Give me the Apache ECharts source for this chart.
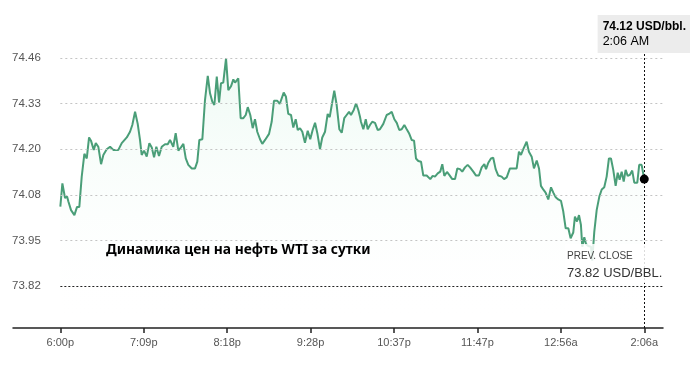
<!DOCTYPE html>
<html>
<head>
<meta charset="utf-8">
<script src="https://cdn.jsdelivr.net/npm/echarts@6/dist/echarts.min.js"></script>
<style>html,body{margin:0;padding:0;background:#fff}#c{width:700px;height:371px}</style>
</head>
<body>
<div id="c"></div>
<script>
// minutes after 6:00p
const times = [0,1.7,3.9,5.6,6.7,8.9,11.7,13.9,15.8,17.8,20.0,22.0,23.9,25.5,27.8,29.5,31.6,33.9,35.8,38.6,41.4,44.1,48.3,51.1,55.3,58.0,59.9,62.2,64.4,66.3,67.7,69.7,71.9,74.1,76.1,78.0,79.9,82.1,84.4,87.1,89.4,91.3,92.7,94.0,96.0,98.2,100.4,102.4,104.4,106.5,109.4,112.1,114.0,115.7,118.2,120.4,
122.7,124.6,126.5,128.2,130.2,132.1,133.7,135.6,137.9,139.8,142.1,144.0,145.4,148.1,150.1,152.3,154.3,156.0,158.1,160.1,162.0,163.9,166.2,168.1,170.4,173.7,175.9,177.8,180.6,182.6,184.2,185.9,187.8,189.7,192.0,193.9,195.9,197.6,199.5,201.4,203.6,205.9,208.0,210.0,212.0,213.9,216.1,218.0,220.3,222.5,224.2,225.9,228.0,230.0,232.2,234.2,236.3,238.3,240.3,241.9,244.2,246.1,248.0,249.4,
250.2,252.2,254.2,255.8,257.7,259.6,261.9,264.1,266.0,268.8,271.6,273.5,275.8,278.0,280.0,282.1,284.1,286.3,288.3,290.2,292.4,294.4,296.0,297.9,300.2,302.1,304.9,306.3,307.9,309.9,311.8,314.1,316.2,317.9,319.6,321.8,323.7,326.2,328.5,330.4,332.6,334.5,336.8,339.0,341.0,343.7,346.0,348.4,350.7,352.9,354.3,356.2,358.4,360.3,362.3,364.5,367.3,369.3,371.5,374.2,377.0,379.8,381.7,383.4,385.3,388.1,390.0,392.3,394.2,396.5,398.4,400.0,401.9,403.9,406.1,408.4,410.3,412.3,414.4,416.7,418.6,420.6,422.8,424.7,426.9,428.3,430.0,431.7,433.3,434.4,436.1,437.5,439.4,441.7,442.7,444.4,446.4,448.6,450.6,452.7,454.7,456.6,458.3,460.2,462.2,463.9,465.5,467.2,468.9,470.5,472.2,474.1,476.0,477.7,480.2,481.8,483.8,486.0];
const prices = [74.043,74.108,74.067,74.071,74.057,74.033,74.019,74.042,74.042,74.127,74.191,74.178,74.237,74.228,74.202,74.221,74.211,74.162,74.188,74.204,74.211,74.202,74.202,74.221,74.237,74.253,74.272,74.309,74.275,74.230,74.188,74.200,74.183,74.221,74.209,74.181,74.211,74.185,74.211,74.218,74.218,74.230,74.228,74.211,74.249,74.200,74.209,74.219,74.178,74.160,74.150,74.150,74.169,74.230,74.232,74.342,
74.410,74.361,74.337,74.328,74.408,74.335,74.389,74.391,74.459,74.370,74.381,74.400,74.391,74.403,74.291,74.291,74.300,74.322,74.300,74.263,74.288,74.253,74.232,74.219,74.230,74.247,74.281,74.340,74.340,74.331,74.331,74.363,74.351,74.303,74.300,74.265,74.288,74.258,74.263,74.253,74.222,74.256,74.232,74.258,74.278,74.249,74.204,74.237,74.253,74.303,74.294,74.328,74.368,74.328,74.260,74.250,74.291,74.300,74.309,74.300,74.314,74.333,74.314,74.295,
74.281,74.260,74.288,74.260,74.272,74.281,74.278,74.258,74.260,74.275,74.300,74.303,74.309,74.288,74.278,74.258,74.260,74.272,74.260,74.249,74.230,74.228,74.178,74.171,74.169,74.130,74.130,74.129,74.120,74.129,74.127,74.136,74.141,74.162,74.129,74.140,74.132,74.120,74.120,74.150,74.148,74.141,74.153,74.160,74.153,74.141,74.130,74.130,74.153,74.162,74.148,74.166,74.178,74.180,74.148,74.130,74.127,74.120,74.125,74.150,74.150,74.150,74.197,74.188,74.204,74.225,74.197,74.183,74.150,74.172,74.150,74.101,74.091,74.082,74.063,74.097,74.082,74.069,74.063,74.059,74.029,73.982,73.982,73.954,73.970,74.015,74.001,74.019,73.991,73.930,73.957,73.938,73.932,73.930,73.891,73.972,74.033,74.071,74.091,74.097,74.127,74.178,74.178,74.146,74.101,74.138,74.118,74.141,74.113,74.146,74.129,74.132,74.144,74.110,74.110,74.160,74.160,74.120];

const xTickMinutes = [0, 69.43, 138.86, 208.29, 277.71, 347.14, 416.57, 486];
const xTickLabels = ['6:00p','7:09p','8:18p','9:28p','10:37p','11:47p','12:56a','2:06a'];
const yTickValues = [73.82, 73.948, 74.076, 74.204, 74.332, 74.46];
const yTickLabels = ['73.82','73.95','74.08','74.20','74.33','74.46'];
const prevClose = 73.82;
const lastTimeLabel = '2:06 AM';
const titleText = 'Динамика цен на нефть WTI за сутки';

const xMin = -39.4, xMax = 501.6;
const yMin = 73.702, yMax = 74.4825;
const lastT = times[times.length - 1];
const lastP = prices[prices.length - 1];

function lookup(vals, labels, v) {
  for (let i = 0; i < vals.length; i++) if (Math.abs(vals[i] - v) < 0.005) return labels[i];
  return '';
}

const markData = [];
yTickValues.forEach(v => {
  if (v === prevClose) return;
  markData.push([
    {coord: [0, v], lineStyle: {type: [2, 3], color: '#c4c4c4', width: 1}, label: {show: false}},
    {coord: [xMax, v]}
  ]);
});
markData.push([
  {coord: [0, prevClose], lineStyle: {type: [2, 2], color: '#222', width: 1},
   label: {
     show: true, position: 'insideEndTop', distance: 3, offset: [3, 0],
     formatter: '{t|PREV. CLOSE}\n{v|' + prevClose.toFixed(2) + ' USD/BBL.}',
     backgroundColor: 'rgba(255,255,255,0.85)', padding: [4, 0, 1, 2],
     rich: {
       t: {fontFamily: 'Liberation Sans', fontSize: 10, color: '#444', width: 96, align: 'left', lineHeight: 16},
       v: {fontFamily: 'Liberation Sans', fontSize: 13, color: '#333', width: 96, align: 'left', lineHeight: 18}
     }
   }},
  {coord: [xMax, prevClose]}
]);
markData.push({xAxis: lastT, lineStyle: {type: [2, 2], color: '#111', width: 1}, label: {show: false}});

const chart = echarts.init(document.getElementById('c'), null, {renderer: 'canvas'});
chart.setOption({
  animation: false,
  backgroundColor: '#fff',
  title: {
    text: titleText, left: 106, top: 243, padding: 0,
    textStyle: {fontFamily: 'Noto Sans', fontWeight: 'bold', fontSize: 13.8, color: '#000'}
  },
  grid: {left: 13, right: 37, top: 50, bottom: 43, containLabel: false},
  xAxis: {
    type: 'value', min: xMin, max: xMax,
    splitLine: {show: false},
    axisLine: {show: true, lineStyle: {color: '#222', width: 1.5}},
    axisTick: {show: true, customValues: xTickMinutes, length: 5, lineStyle: {color: '#222', width: 1.5}},
    axisLabel: {
      customValues: xTickMinutes, margin: 9,
      fontFamily: 'Liberation Sans', fontSize: 11, color: '#555',
      formatter: v => lookup(xTickMinutes, xTickLabels, v)
    }
  },
  yAxis: {
    type: 'value', min: yMin, max: yMax,
    splitLine: {show: false},
    axisLine: {show: false},
    axisTick: {show: false},
    axisLabel: {
      customValues: yTickValues, inside: true, margin: -1,
      fontFamily: 'Liberation Sans', fontSize: 11.5, color: '#555',
      formatter: v => lookup(yTickValues, yTickLabels, v)
    }
  },
  graphic: [{
    type: 'text', right: 10, top: 15, z: 100,
    style: {
      text: '{b|' + lastP.toFixed(2) + ' USD/bbl.}\n{n|' + lastTimeLabel + '}',
      backgroundColor: '#ececec', padding: [4, 4, 3, 5],
      rich: {
        b: {fontFamily: 'Liberation Sans', fontWeight: 'bold', fontSize: 12, color: '#111', lineHeight: 15},
        n: {fontFamily: 'Liberation Sans', fontSize: 12.5, color: '#222', lineHeight: 16}
      }
    }
  }],
  series: [{
    type: 'line',
    data: times.map((t, i) => [t, prices[i]]),
    showSymbol: false,
    lineStyle: {color: '#4a9e78', width: 2},
    itemStyle: {color: '#4a9e78'},
    areaStyle: {
      color: new echarts.graphic.LinearGradient(0, 0, 0, 1, [
        {offset: 0, color: 'rgba(200,240,220,0.45)'},
        {offset: 1, color: 'rgba(255,255,255,0)'}
      ])
    },
    emphasis: {disabled: true},
    silent: true,
    markLine: {silent: true, symbol: 'none', data: markData},
    markPoint: {
      silent: true, symbol: 'circle', symbolSize: 9,
      itemStyle: {color: '#000'}, label: {show: false},
      data: [{coord: [lastT, lastP]}]
    }
  }]
});
</script>
</body>
</html>
